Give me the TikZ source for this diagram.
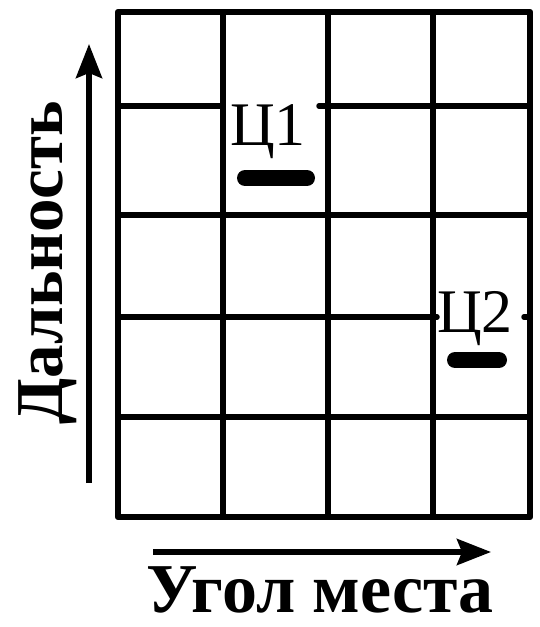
\documentclass[tikz,border=0pt]{standalone}
\usepackage{fontspec}
\setmainfont{Liberation Serif}
\usetikzlibrary{arrows.meta}
\begin{document}
\begin{tikzpicture}[x=1pt,y=-1pt,
  gridline/.style={line width=5.5pt,line cap=round},
  axisarrow/.style={line width=5.5pt,-{Stealth[length=34pt,width=26pt,inset=5pt]}},
  target/.style={line width=16pt,line cap=round},
  bigtext/.style={inner sep=0pt,font=\bfseries\fontsize{70}{80}\selectfont},
  tlabel/.style={inner sep=0pt,font=\fontsize{62}{72}\selectfont}]
\useasboundingbox (0,0) rectangle (539,627);
% outer frame
\draw[line width=6.5pt,line join=round] (118,12) rectangle (530,517);
% vertical grid lines
\foreach \x in {223,328,433} \draw[gridline] (\x,12) -- (\x,517);
% horizontal grid lines (with gaps under labels)
\draw[gridline] (118,106) -- (223,106);
\draw[gridline] (319,106) -- (530,106);
\draw[gridline] (118,215) -- (530,215);
\draw[gridline] (118,317) -- (437,317);
\draw[gridline] (524,317) -- (530,317);
\draw[gridline] (118,417) -- (530,417);
% targets
\node[tlabel,anchor=base] (c1) at (268,145) {Ц1};
\draw[target] (245,178) -- (307,178);
\node[tlabel,anchor=base] (c2) at (475,332) {Ц2};
\draw[target] (455,360) -- (499,360);
% axes
\coordinate (ya) at (89,483);
\coordinate (yb) at (89,44);
\draw[axisarrow] (ya) -- (yb);
\coordinate (xa) at (153,552);
\coordinate (xb) at (491,552);
\draw[axisarrow] (xa) -- (xb);
\node[bigtext,anchor=base] (xlab) at (320,612) {Угол места};
\node[bigtext,anchor=base,rotate=90,font=\bfseries\fontsize{67}{80}\selectfont] (ylab) at (62,263) {Дальность};
\end{tikzpicture}
\end{document}
